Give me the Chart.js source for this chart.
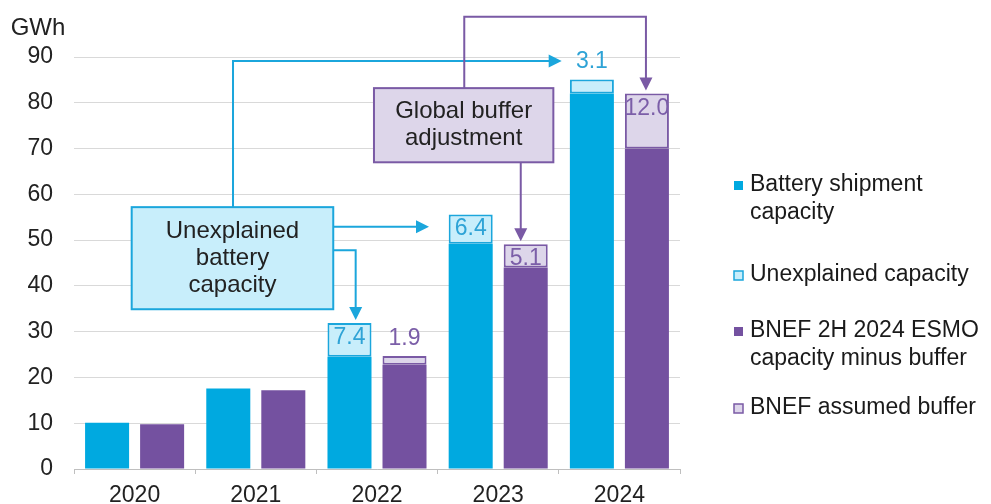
<!DOCTYPE html>
<html>
<head>
<meta charset="utf-8">
<script src="https://cdn.jsdelivr.net/npm/chart.js@4.4.1/dist/chart.umd.min.js"></script>
<style>
  html, body { margin: 0; padding: 0; background: #fff; }
  #wrap { width: 991px; height: 504px; }
</style>
</head>
<body>
<div id="wrap"><canvas id="myChart" width="991" height="504"></canvas></div>
<script>
// Battery capacity by year (GWh)
const years = ['2020', '2021', '2022', '2023', '2024'];
const shipment = [10.1, 17.6, 24.5, 49.2, 82.0];
const unexplained = [0, 0, 7.4, 6.4, 3.1];
const bnefMinusBuffer = [9.8, 17.2, 22.8, 44.0, 70.0];
const bnefBuffer = [0, 0, 1.9, 5.1, 12.0];
const yTicks = [0, 10, 20, 30, 40, 50, 60, 70, 80, 90];

const BLUE = '#00a9e0';
const BLUE_LIGHT = '#c8eefb';
const BLUE_LINE = '#1ba6dc';
const PURPLE = '#7451a0';
const PURPLE_LIGHT = '#ddd6ea';
const PURPLE_LINE = '#7a5aa5';
const FONT = '"Liberation Sans", Arial, sans-serif';

// legend rows: which dataset, wrapped lines, centre y of first line
const legendRows = [
  { ds: 0, lines: ['Battery shipment', 'capacity'], y: 185 },
  { ds: 1, lines: ['Unexplained capacity'], y: 275 },
  { ds: 2, lines: ['BNEF 2H 2024 ESMO', 'capacity minus buffer'], y: 331 },
  { ds: 3, lines: ['BNEF assumed buffer'], y: 408 }
];

// value labels on the top segments of each stack
const segmentLabels = {
  id: 'segmentLabels',
  afterDatasetsDraw(chart) {
    const ctx = chart.ctx;
    ctx.save();
    ctx.font = '23px ' + FONT;
    ctx.textAlign = 'center';
    ctx.textBaseline = 'alphabetic';
    [1, 3].forEach(i => {
      const ds = chart.data.datasets[i];
      chart.getDatasetMeta(i).data.forEach((bar, j) => {
        const v = ds.data[j];
        if (!v) return;
        ctx.fillStyle = i === 1 ? '#2ea3d6' : '#7b5ea8';
        const h = bar.base - bar.y;
        // thin segments get their label above the bar
        const y = h >= 20 ? bar.y + 21 : bar.y - 11;
        ctx.fillText(v.toFixed(1), bar.x, y);
      });
    });
    ctx.restore();
  }
};

function arrowHead(ctx, x, y, dir, color) {
  const L = 13, W = 6.5;
  ctx.fillStyle = color;
  ctx.beginPath();
  if (dir === 'right') {
    ctx.moveTo(x, y); ctx.lineTo(x - L, y - W); ctx.lineTo(x - L, y + W);
  } else {
    ctx.moveTo(x, y); ctx.lineTo(x - W, y - L); ctx.lineTo(x + W, y - L);
  }
  ctx.closePath();
  ctx.fill();
}

function polyArrow(ctx, pts, dir, color) {
  ctx.strokeStyle = color;
  ctx.lineWidth = 2;
  ctx.beginPath();
  ctx.moveTo(pts[0][0], pts[0][1]);
  for (let k = 1; k < pts.length - 1; k++) ctx.lineTo(pts[k][0], pts[k][1]);
  const last = pts[pts.length - 1];
  if (dir === 'right') ctx.lineTo(last[0] - 12, last[1]);
  else ctx.lineTo(last[0], last[1] - 12);
  ctx.stroke();
  arrowHead(ctx, last[0], last[1], dir, color);
}

function textBox(ctx, x1, y1, x2, y2, fill, stroke, lines) {
  ctx.fillStyle = fill;
  ctx.fillRect(x1, y1, x2 - x1, y2 - y1);
  ctx.strokeStyle = stroke;
  ctx.lineWidth = 2;
  ctx.strokeRect(x1, y1, x2 - x1, y2 - y1);
  ctx.fillStyle = '#222';
  ctx.font = '24px ' + FONT;
  ctx.textAlign = 'center';
  ctx.textBaseline = 'middle';
  const cx = (x1 + x2) / 2, cy = (y1 + y2) / 2, lh = 27;
  lines.forEach((t, k) => {
    ctx.fillText(t, cx, cy + (k - (lines.length - 1) / 2) * lh);
  });
}

// callout boxes and arrows, placed in category units / axis values
const callouts = {
  id: 'callouts',
  afterDraw(chart) {
    const ctx = chart.ctx;
    const xs = chart.scales.x, ys = chart.scales.y;
    const catW = (xs.right - xs.left) / years.length;
    const ux = u => xs.left + u * catW;
    const vy = v => ys.getPixelForValue(v);
    const topOf = (ds, j) => chart.getDatasetMeta(ds).data[j].y - 3;

    ctx.save();
    // blue callout
    polyArrow(ctx, [[ux(1.312), vy(57)], [ux(1.312), vy(89.1)], [ux(4.024), vy(89.1)]], 'right', BLUE_LINE);
    polyArrow(ctx, [[ux(2.139), vy(52.9)], [ux(2.929), vy(52.9)]], 'right', BLUE_LINE);
    polyArrow(ctx, [[ux(2.139), vy(47.8)], [ux(2.324), vy(47.8)], [ux(2.324), topOf(1, 2)]], 'down', BLUE_LINE);
    textBox(ctx, ux(0.476), vy(57.2), ux(2.139), vy(34.9), BLUE_LIGHT, BLUE_LINE,
      ['Unexplained', 'battery', 'capacity']);

    // purple callout
    polyArrow(ctx, [[ux(3.22), vy(83)], [ux(3.22), vy(98.8)], [ux(4.719), vy(98.8)], [ux(4.719), topOf(3, 4)]], 'down', PURPLE_LINE);
    polyArrow(ctx, [[ux(3.686), vy(67)], [ux(3.686), topOf(3, 3)]], 'down', PURPLE_LINE);
    textBox(ctx, ux(2.475), vy(83.2), ux(3.955), vy(67.0), PURPLE_LIGHT, PURPLE_LINE,
      ['Global buffer', 'adjustment']);

    // unit label
    ctx.fillStyle = '#222';
    ctx.font = '24px ' + FONT;
    ctx.textAlign = 'center';
    ctx.textBaseline = 'middle';
    ctx.fillText('GWh', 38, 28);

    // legend
    ctx.font = '23px ' + FONT;
    ctx.textAlign = 'left';
    legendRows.forEach(row => {
      const ds = chart.data.datasets[row.ds];
      ctx.fillStyle = ds.backgroundColor;
      ctx.fillRect(734, row.y - 4, 9, 9);
      if (ds.borderWidth) {
        ctx.strokeStyle = ds.borderColor;
        ctx.lineWidth = 1.5;
        ctx.strokeRect(734, row.y - 4, 9, 9);
      }
      ctx.fillStyle = '#1a1a1a';
      row.lines.forEach((t, k) => ctx.fillText(t, 750, row.y + k * 28));
    });
    ctx.restore();
  }
};

const ctx = document.getElementById('myChart');
new Chart(ctx, {
  type: 'bar',
  data: {
    labels: years,
    datasets: [
      { label: 'Battery shipment capacity', data: shipment, stack: 'ship',
        backgroundColor: BLUE, borderWidth: 0 },
      { label: 'Unexplained capacity', data: unexplained, stack: 'ship',
        backgroundColor: BLUE_LIGHT, borderColor: BLUE_LINE, borderWidth: 2, borderSkipped: false },
      { label: 'BNEF 2H 2024 ESMO capacity minus buffer', data: bnefMinusBuffer, stack: 'bnef',
        backgroundColor: PURPLE, borderWidth: 0 },
      { label: 'BNEF assumed buffer', data: bnefBuffer, stack: 'bnef',
        backgroundColor: PURPLE_LIGHT, borderColor: PURPLE_LINE, borderWidth: 2, borderSkipped: false }
    ]
  },
  options: {
    responsive: false,
    animation: false,
    devicePixelRatio: 1,
    categoryPercentage: 0.908,
    barPercentage: 0.8,
    layout: { padding: { left: 0, top: 57, right: 311, bottom: 0 } },
    plugins: {
      legend: { display: false },
      tooltip: { enabled: false }
    },
    scales: {
      x: {
        stacked: true,
        grid: { offset: true, drawOnChartArea: false, tickLength: 5, color: '#bfbfbf' },
        border: { color: '#bfbfbf', width: 1 },
        ticks: { font: { family: FONT, size: 23 }, color: '#222', padding: 8 },
        afterFit: s => { s.height = 35; }
      },
      y: {
        stacked: true,
        min: 0,
        max: 90,
        afterBuildTicks: s => { s.ticks = yTicks.map(v => ({ value: v })); },
        grid: { color: '#d9d9d9', drawTicks: false },
        border: { display: false },
        ticks: { font: { family: FONT, size: 23 }, color: '#222', padding: 21 },
        afterFit: s => { s.width = 74; }
      }
    }
  },
  plugins: [segmentLabels, callouts]
});
</script>
</body>
</html>
